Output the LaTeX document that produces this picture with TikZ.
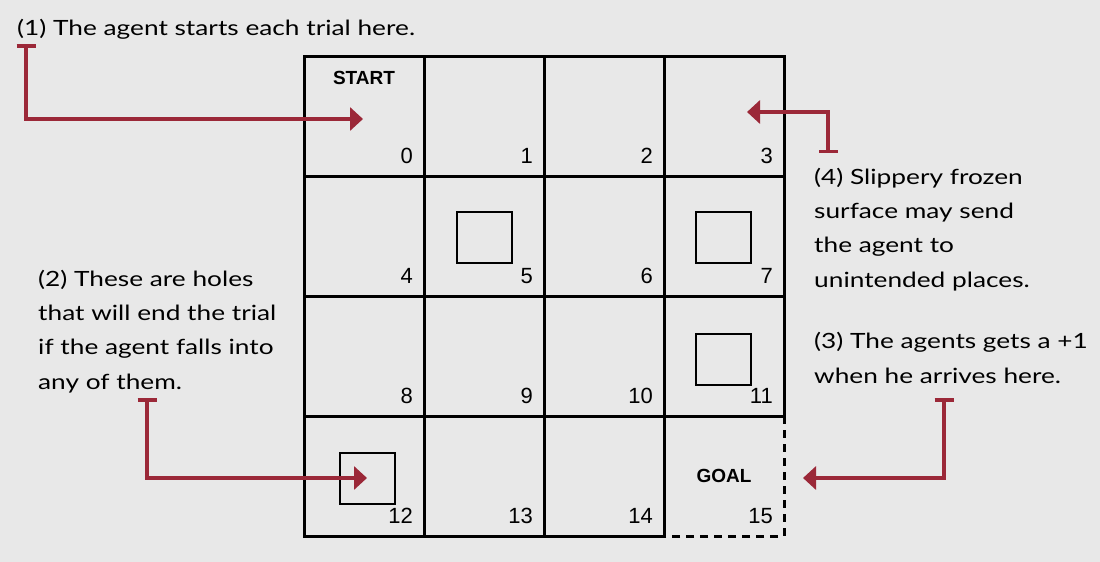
\documentclass[tikz,border=0pt]{standalone}
\usepackage{fontspec}
\setmainfont{Liberation Sans}
\newfontfamily\handfont[FakeStretch=1.25]{Lato}
\usetikzlibrary{arrows.meta}
\definecolor{bg}{RGB}{232,232,232}
\definecolor{callout}{RGB}{155,40,56}
\tikzset{
  cell/.style={draw, line width=3pt, minimum size=120pt, inner sep=0pt, outer sep=0pt},
  hole/.style={draw, line width=2pt, minimum width=55pt, minimum height=51pt, inner sep=0pt},
  num/.style={font=\fontsize{22}{26}\selectfont, anchor=base east, inner sep=0pt},
  tag/.style={font=\bfseries\fontsize{19}{22}\selectfont, anchor=base, inner sep=0pt},
  note/.style={font=\handfont\fontsize{21}{34.3}\selectfont, align=left, anchor=base west, inner sep=0pt},
  callout/.style={draw=callout, line width=3.5pt, {Bar[width=19pt]}-{Triangle[length=13pt,width=23pt]}}
}
\begin{document}
\begin{tikzpicture}[x=1pt,y=-1pt]
\fill[bg] (0,0) rectangle (1100,562);
\useasboundingbox (0,0) rectangle (1100,562);
% grid cells
\foreach \i in {0,...,14}{
  \pgfmathtruncatemacro{\col}{mod(\i,4)}
  \pgfmathtruncatemacro{\row}{div(\i,4)}
  \node[cell] (c\i) at (364+120*\col,116+120*\row) {};
}
\node[cell, draw=none] (c15) at (724,476) {};
\draw[line width=3pt, dash pattern=on 8pt off 6pt] (c15.north east) -- (c15.south east) -- (c15.south west);
% numbers
\foreach \i in {0,...,15}{
  \node[num] (n\i) at ([xshift=-11pt,yshift=13pt]c\i.south east) {\i};
}
% start / goal
\node[tag] (start) at (364,84) {START};
\node[tag] (goal) at (724,482) {GOAL};
% holes
\node[hole] (h5) at (484,237.5) {};
\node[hole] (h7) at (723,237.5) {};
\node[hole] (h11) at (723,359.5) {};
\node[hole] (h12) at (367.5,478) {};
% notes (anchor = baseline of last line)
\node[note] (note1) at (17,35) {(1) The agent starts each trial here.};
\node[note] (note2) at (38,389) {(2) These are holes\\that will end the trial\\if the agent falls into\\any of them.};
\node[note] (note4) at (814,287) {(4) Slippery frozen\\surface may send\\the agent to\\unintended places.};
\node[note] (note3) at (814,383) {(3) The agents gets a +1\\when he arrives here.};
% callout arrows
\coordinate (t1) at (26,44);   \coordinate (a1) at (363,119);
\coordinate (t2) at (147,398); \coordinate (a2) at (367,478);
\coordinate (t3) at (944,398); \coordinate (a3) at (803,478);
\coordinate (t4) at (828,153); \coordinate (a4) at (747,112);
\draw[callout] (t1) |- (a1);
\draw[callout] (t2) |- (a2);
\draw[callout] (t3) |- (a3);
\draw[callout] (t4) |- (a4);
\end{tikzpicture}
\end{document}
